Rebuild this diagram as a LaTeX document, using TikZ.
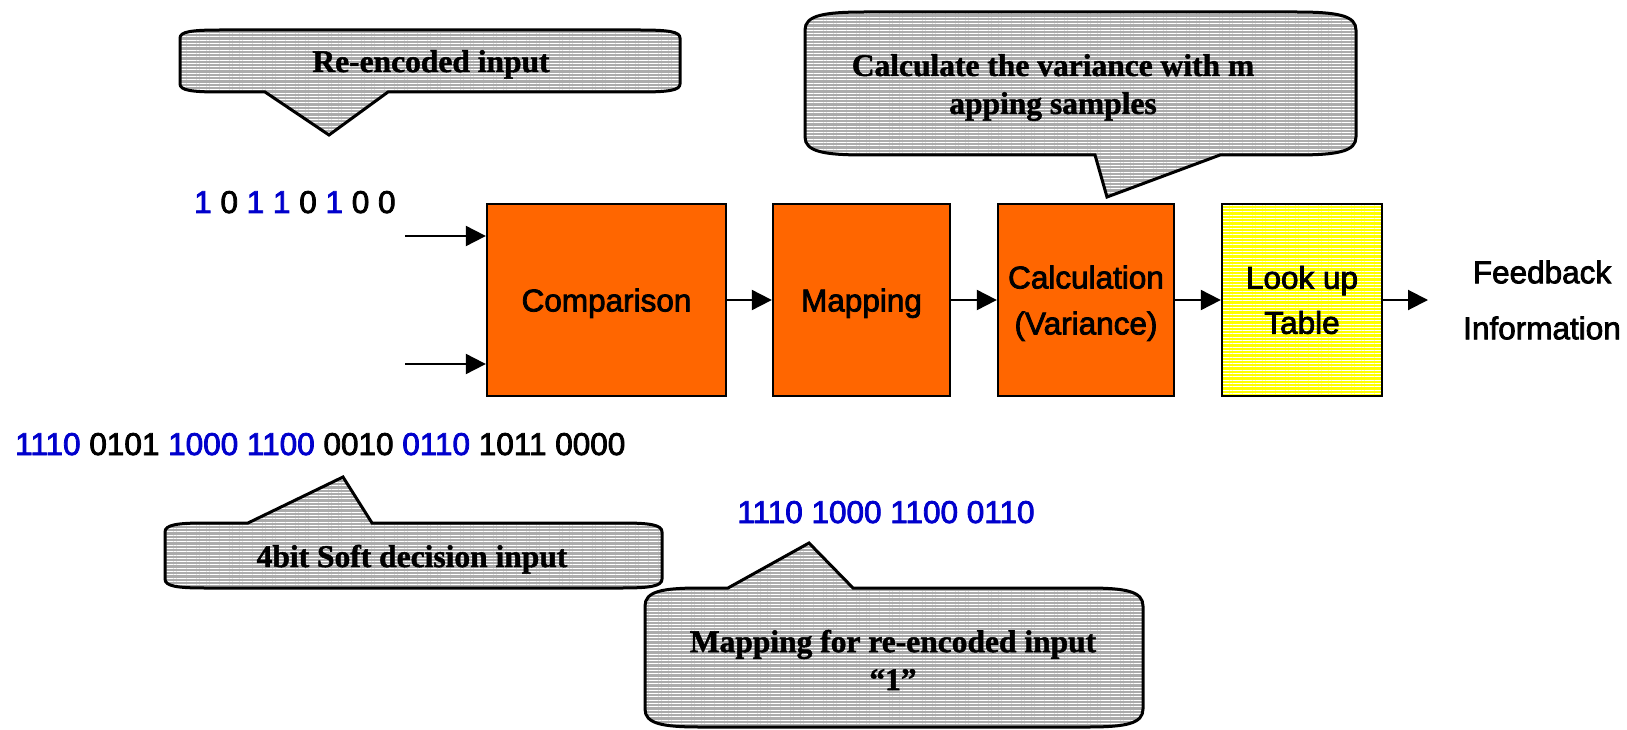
\documentclass[tikz,border=0pt]{standalone}
\usepackage{fontspec}
\setmainfont[BoldFeatures={FakeBold=1.5}]{Liberation Serif}
\newfontfamily\arialfont[FakeBold=2.5]{Liberation Sans}
\usetikzlibrary{arrows.meta,patterns.meta}
\definecolor{orng}{HTML}{FF6600}
\definecolor{yel}{HTML}{FFFF00}
\definecolor{cgray}{HTML}{ABABAB}
\definecolor{bitblue}{HTML}{0000CC}
\begin{document}
\begin{tikzpicture}[x=1pt,y=-1pt,
  blk/.style={draw=black,line width=2.3pt,fill=orng,inner sep=0pt,align=center,text depth=0pt,
    font=\arialfont\fontsize{31.5}{46}\selectfont},
  lutbox/.style={draw=black,line width=2.3pt,preaction={fill=yel},
    pattern={Lines[angle=0,distance=3.3pt,line width=1pt]},pattern color=white,
    inner sep=0pt,align=center,font=\arialfont\fontsize{31.5}{45}\selectfont},
  arw/.style={line width=2pt,-{Triangle[length=20pt,width=20pt]}},
  callout/.style={draw=black,line width=3pt,line join=miter,preaction={fill=cgray},
    pattern={Lines[angle=0,distance=3.3pt,line width=1pt]},pattern color=white},
  ctext/.style={inner sep=0pt,align=center,font=\bfseries\fontsize{31.5}{38}\selectfont},
  bits/.style={inner sep=0pt,font=\arialfont\fontsize{31.5}{38}\selectfont},
  btext/.style={inner sep=0pt,align=center,font=\arialfont\fontsize{31.5}{56}\selectfont}]
\useasboundingbox (0,0) rectangle (1627,730);

% callouts
\path[callout] (180,38) .. controls (180,31.6) and (192,30) .. (220,30) -- (640,30)
  .. controls (668,30) and (680,31.6) .. (680,38) -- (680,84)
  .. controls (680,90.4) and (668,92) .. (640,92) -- (388,92) -- (329,135) -- (265,92) -- (220,92)
  .. controls (192,92) and (180,90.4) .. (180,84) -- cycle;
\node[ctext,anchor=base] (t1) at (431,72) {Re-encoded input};

\path[callout] (805,30) .. controls (805,15.6) and (823,12) .. (865,12) -- (1296,12)
  .. controls (1338,12) and (1356,15.6) .. (1356,30) -- (1356,137)
  .. controls (1356,151.4) and (1338,155) .. (1296,155) -- (1220,155) -- (1107,197) -- (1095,155) -- (865,155)
  .. controls (823,155) and (805,151.4) .. (805,137) -- cycle;
\node[ctext] (t2) at (1053,87.5) {Calculate the variance with m\\apping samples};

\path[callout] (165,532) .. controls (165,524.8) and (177,523) .. (205,523) -- (248,523) -- (343,477) -- (372,523) -- (622,523)
  .. controls (650,523) and (662,524.8) .. (662,532) -- (662,579)
  .. controls (662,586.2) and (650,588) .. (622,588) -- (205,588)
  .. controls (177,588) and (165,586.2) .. (165,579) -- cycle;
\node[ctext,anchor=base] (t3) at (412,567) {4bit Soft decision input};

\path[callout] (645,606) .. controls (645,591.6) and (661.5,588) .. (700,588) -- (728,588) -- (809,543) -- (853,588) -- (1088,588)
  .. controls (1126.5,588) and (1143,591.6) .. (1143,606) -- (1143,709)
  .. controls (1143,723.4) and (1126.5,727) .. (1088,727) -- (700,727)
  .. controls (661.5,727) and (645,723.4) .. (645,709) -- cycle;
\node[ctext] (t4) at (893,660) {Mapping for re-encoded input\\“1”};

% bit strings
\node[bits,anchor=base west] (b1) at (194,213) {\textcolor{bitblue}{1} 0 \textcolor{bitblue}{1 1} 0 \textcolor{bitblue}{1} 0 0};
\node[bits,anchor=base west] (b2) at (15,455) {\textcolor{bitblue}{1110} 0101 \textcolor{bitblue}{1000 1100} 0010 \textcolor{bitblue}{0110} 1011 0000};
\node[bits,anchor=base,text=bitblue] (b3) at (886,523) {1110 1000 1100 0110};

% blocks
\node[blk,minimum width=239pt,minimum height=192pt] (cmp) at (606.5,300) {Comparison};
\node[blk,minimum width=177pt,minimum height=192pt] (map) at (861.5,300) {Mapping};
\node[blk,minimum width=176pt,minimum height=192pt] (calc) at (1086,300) {Calculation\\(Variance)};
\node[lutbox,minimum width=160pt,minimum height=192pt] (lut) at (1302,300) {Look up\\Table};

\node[btext] (fb) at (1542,300) {Feedback\\Information};

% connectors
\coordinate (in1) at (405,236);
\coordinate (in2) at (405,364);
\coordinate (out) at (1428,300);
\draw[arw] (in1) -- (in1 -| cmp.west);
\draw[arw] (in2) -- (in2 -| cmp.west);
\draw[arw] (cmp) -- (map);
\draw[arw] (map) -- (calc);
\draw[arw] (calc) -- (lut);
\draw[arw] (lut) -- (out);
\end{tikzpicture}
\end{document}
